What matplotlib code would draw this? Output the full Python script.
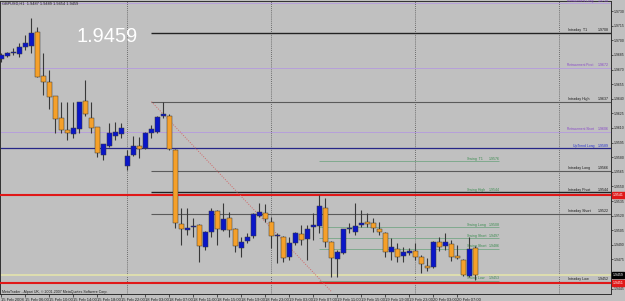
import matplotlib
matplotlib.use('Agg')
import matplotlib.pyplot as plt
import matplotlib.transforms as mtransforms
from matplotlib.patches import Rectangle

# --- data (GBPUSD H1) ---
symbol_info = 'GBPUSD,H1  1.9487 1.9489 1.9454 1.9459'
copyright_text = 'MetaTrader - Alpari UK, \u00a9 2001-2007 MetaQuotes Software Corp.'
bid_price = 1.9459

opens = [1.9681, 1.9684, 1.9687, 1.9686, 1.9693, 1.9694, 1.9709, 1.9663, 1.9657, 1.9643,
         1.9620, 1.9608, 1.9604, 1.9609, 1.9638, 1.9620, 1.9611, 1.9582, 1.9592, 1.9602,
         1.9604, 1.9571, 1.9582, 1.9592, 1.9589, 1.9605, 1.9606, 1.9622, 1.9622, 1.9587,
         1.9511, 1.9505, 1.9508, 1.9510, 1.9488, 1.9503, 1.9525, 1.9505, 1.9518, 1.9506,
         1.9487, 1.9494, 1.9499, 1.9520, 1.9523, 1.9513, 1.9499, 1.9498, 1.9478, 1.9492,
         1.9501, 1.9496, 1.9508, 1.9509, 1.9528, 1.9493, 1.9475, 1.9482, 1.9506, 1.9503,
         1.9510, 1.9513, 1.9512, 1.9506, 1.9502, 1.9483, 1.9486, 1.9479, 1.9482, 1.9484,
         1.9478, 1.9468, 1.9467, 1.9493, 1.9489, 1.9491, 1.9479, 1.9474, 1.9458, 1.9487]
highs = [1.9687, 1.9688, 1.9692, 1.9697, 1.9705, 1.9723, 1.9714, 1.9687, 1.9670, 1.9643,
         1.9637, 1.9637, 1.9637, 1.9637, 1.9659, 1.9637, 1.9611, 1.9594, 1.9615, 1.9616,
         1.9615, 1.9587, 1.9602, 1.9601, 1.9606, 1.9613, 1.9622, 1.9637, 1.9624, 1.9588,
         1.9528, 1.9528, 1.9518, 1.9511, 1.9504, 1.9528, 1.9526, 1.9533, 1.9524, 1.9507,
         1.9498, 1.9502, 1.9523, 1.9533, 1.9532, 1.9519, 1.9502, 1.9499, 1.9498, 1.9503,
         1.9510, 1.9510, 1.9523, 1.9541, 1.9538, 1.9494, 1.9485, 1.9506, 1.9512, 1.9533,
         1.9526, 1.9523, 1.9518, 1.9513, 1.9503, 1.9497, 1.9492, 1.9488, 1.9487, 1.9492,
         1.9480, 1.9476, 1.9494, 1.9498, 1.9502, 1.9495, 1.9490, 1.9475, 1.9498, 1.9489]
lows = [1.9678, 1.9683, 1.9685, 1.9683, 1.9690, 1.9687, 1.9662, 1.9644, 1.9630, 1.9605,
        1.9605, 1.9598, 1.9600, 1.9605, 1.9622, 1.9605, 1.9580, 1.9577, 1.9590, 1.9598,
        1.9600, 1.9567, 1.9581, 1.9579, 1.9588, 1.9600, 1.9605, 1.9620, 1.9587, 1.9507,
        1.9490, 1.9500, 1.9498, 1.9472, 1.9485, 1.9498, 1.9490, 1.9504, 1.9498, 1.9483,
        1.9478, 1.9492, 1.9497, 1.9519, 1.9513, 1.9487, 1.9471, 1.9472, 1.9474, 1.9490,
        1.9490, 1.9474, 1.9495, 1.9502, 1.9488, 1.9457, 1.9457, 1.9481, 1.9502, 1.9500,
        1.9508, 1.9508, 1.9503, 1.9500, 1.9478, 1.9474, 1.9472, 1.9472, 1.9480, 1.9474,
        1.9461, 1.9463, 1.9466, 1.9484, 1.9485, 1.9473, 1.9475, 1.9458, 1.9457, 1.9454]
closes = [1.9685, 1.9687, 1.9688, 1.9693, 1.9697, 1.9708, 1.9662, 1.9657, 1.9642, 1.9619,
          1.9608, 1.9605, 1.9610, 1.9637, 1.9624, 1.9610, 1.9584, 1.9594, 1.9605, 1.9606,
          1.9610, 1.9581, 1.9591, 1.9588, 1.9605, 1.9609, 1.9621, 1.9624, 1.9588, 1.9512,
          1.9506, 1.9507, 1.9509, 1.9489, 1.9503, 1.9525, 1.9506, 1.9517, 1.9505, 1.9489,
          1.9493, 1.9498, 1.9522, 1.9524, 1.9517, 1.9499, 1.9500, 1.9476, 1.9492, 1.9502,
          1.9495, 1.9506, 1.9510, 1.9530, 1.9493, 1.9476, 1.9483, 1.9506, 1.9507, 1.9509,
          1.9512, 1.9511, 1.9507, 1.9503, 1.9483, 1.9488, 1.9478, 1.9483, 1.9484, 1.9478,
          1.9470, 1.9466, 1.9493, 1.9488, 1.9493, 1.9478, 1.9476, 1.9459, 1.9486, 1.9459]

time_label_bars = [0, 4, 8, 12, 16, 20, 24, 28, 32, 36, 40, 44, 48, 52, 56, 60, 64, 68, 72, 76]
time_labels = ['15 Feb 2008', '15 Feb 06:00', '15 Feb 10:00', '15 Feb 14:00', '15 Feb 18:00',
               '15 Feb 22:00', '18 Feb 03:00', '18 Feb 07:00', '18 Feb 11:00', '18 Feb 15:00',
               '18 Feb 19:00', '18 Feb 23:00', '19 Feb 03:00', '19 Feb 07:00', '19 Feb 11:00',
               '19 Feb 15:00', '19 Feb 19:00', '19 Feb 23:00', '20 Feb 03:00', '20 Feb 07:00']
day_start_bars = [21, 45, 69, 93]

price_ticks = [1.9445, 1.9460, 1.9475, 1.9490, 1.9505, 1.9520, 1.9535, 1.9550, 1.9565, 1.9580,
               1.9595, 1.9610, 1.9625, 1.9640, 1.9655, 1.9670, 1.9685, 1.9700, 1.9715, 1.9730]

# pivot-indicator levels
retr_names = ['Retracement Long', 'Retracement Pivot', 'Retracement Short']
retr_prices = [1.9738, 1.9672, 1.9606]
uptrend_name = 'UpTrend Long'
uptrend_price = 1.9589
intraday_names = ['Intraday  T1', 'Intraday High', 'Intraday Long', 'Intraday Pivot',
                  'Intraday Short', 'Intraday Low']
intraday_prices = [1.9708, 1.9637, 1.9566, 1.9544, 1.9522, 1.9452]
swing_names = ['Swing  T1', 'Swing High', 'Swing Long', 'Swing Short', 'Swing Short', 'Swing Low']
swing_prices = [1.9576, 1.9544, 1.9508, 1.9497, 1.9486, 1.9453]
alert_prices = [1.9541, 1.9451]
intraday_start_bar = 25
swing_bars = [53, 83]
trend_bars = [25, 55]
trend_prices = [1.9637, 1.9442]

# --- style ---
BG = '#C0C0C0'
BULL = '#0A16C8'
BEAR = '#F5A02A'
WICK = '#383838'
SMALL = dict(fontsize=2.6, family='Liberation Sans', va='bottom')

fig = plt.figure(figsize=(6.25, 3.01), dpi=100, facecolor=BG)
ax = fig.add_axes([0, 1 - 294 / 301, 611 / 625, 293 / 301])
ax.set_facecolor(BG)
ax.set_xlim(-0.25, 101.6)
ax.set_ylim(1.94395, 1.97404)

# day separators
for b in day_start_bars:
    ax.axvline(b, color='#505050', lw=0.6, ls=(0, (1, 1.5)), zorder=1)

# levels
right = 101.6
ax.hlines(bid_price, -0.25, right, color='#E4E4AC', lw=1.2, zorder=1)
for name, p in zip(retr_names, retr_prices):
    ax.hlines(p, -0.25, right, color='#B6A0DA', lw=0.7, zorder=2)
    ax.text(94.2, p + 0.00005, name, color='#8848C8', ha='left',
            fontsize=2.35, family='Liberation Sans', va='bottom')
    ax.text(101.3, p + 0.00005, f'{p:.4f}', color='#8848C8', ha='right', **SMALL)

ax.hlines(uptrend_price, -0.25, right, color='#262688', lw=0.9, zorder=2)
ax.text(95.2, uptrend_price + 0.00005, uptrend_name, color='#2430D0', ha='left',
        fontsize=2.45, family='Liberation Sans', va='bottom')
ax.text(101.3, uptrend_price + 0.00005, f'{uptrend_price:.4f}', color='#2430D0', ha='right', **SMALL)

for name, p in zip(swing_names, swing_prices):
    ax.hlines(p, swing_bars[0], swing_bars[1], color='#80AA8E', lw=0.7, zorder=2)
    ax.text(77.6, p + 0.00005, name, color='#3C8C50', ha='left', **SMALL)
    ax.text(83.0, p + 0.00005, f'{p:.4f}', color='#3C8C50', ha='right', **SMALL)

for i, (name, p) in enumerate(zip(intraday_names, intraday_prices)):
    c = '#222222' if i in (0, 3) else '#5A5A5A'
    ax.hlines(p, intraday_start_bar, right, color=c, lw=1.0 if i in (0, 3) else 0.8, zorder=2)
    ax.text(94.4, p + 0.00005, name, color='#1A1A1A', ha='left', **SMALL)
    ax.text(101.3, p + 0.00005, f'{p:.4f}', color='#1A1A1A', ha='right', **SMALL)

for p in alert_prices:
    ax.hlines(p, -0.25, right, color='#E01818', lw=1.5, zorder=3)

ax.plot(trend_bars, trend_prices, color='#D06868', lw=0.7, ls=(0, (1, 1.5)), zorder=3)

# candles
for i, (o, h, l, c) in enumerate(zip(opens, highs, lows, closes)):
    ax.vlines(i, l, h, color=WICK, lw=0.8, zorder=4)
    col = BULL if c >= o else BEAR
    body = max(abs(c - o), 0.00003)
    ax.add_patch(Rectangle((i - 0.35, min(o, c)), 0.7, body, facecolor=col,
                           edgecolor='#3A3A3A', lw=0.35, zorder=5))

# axes cosmetics
for s in ax.spines.values():
    s.set_color('#303030')
    s.set_linewidth(0.7)
ax.yaxis.tick_right()
ax.set_yticks(price_ticks)
# the bid box hides the tick label under it, as on the terminal
ax.set_yticklabels(['' if abs(p - bid_price) < 0.0003 else f'{p:.4f}' for p in price_ticks],
                   family='Liberation Sans')
ax.tick_params(axis='y', labelsize=2.5, length=1.6, width=0.5, pad=0.4, colors='#202020')
ax.set_xticks(time_label_bars)
ax.set_xticklabels(time_labels, ha='left', family='Liberation Sans')
ax.tick_params(axis='x', labelsize=3.0, length=2, width=0.5, pad=0.8, colors='#202020')

# price boxes on the right scale
trans = mtransforms.blended_transform_factory(ax.transAxes, ax.transData)
ax.text(1.003, bid_price, f'{bid_price:.4f}', transform=trans, color='white', fontsize=2.5,
        family='Liberation Sans', va='center', ha='left', clip_on=False, zorder=10,
        bbox=dict(boxstyle='square,pad=0.25', fc='black', ec='black'))
for p in alert_prices:
    ax.text(1.003, p, f'{p:.4f}', transform=trans, color='white', fontsize=2.5,
            family='Liberation Sans', va='center', ha='left', clip_on=False, zorder=10,
            bbox=dict(boxstyle='square,pad=0.25', fc='#E01818', ec='#E01818'))

# texts
fig.text(2 / 625, 1 - 5 / 301, symbol_info, fontsize=2.8, family='Liberation Sans',
         color='#202020', va='baseline')
fig.text(2 / 625, 1 - 293 / 301, copyright_text, fontsize=2.6, family='Liberation Sans',
         color='#202020', va='baseline')
fig.text(77 / 625, 1 - 42 / 301, f'{bid_price:.4f}', fontsize=14.4, color='white',
         family='Liberation Sans', va='baseline')

fig.savefig('out.png', dpi=100, facecolor=BG)
